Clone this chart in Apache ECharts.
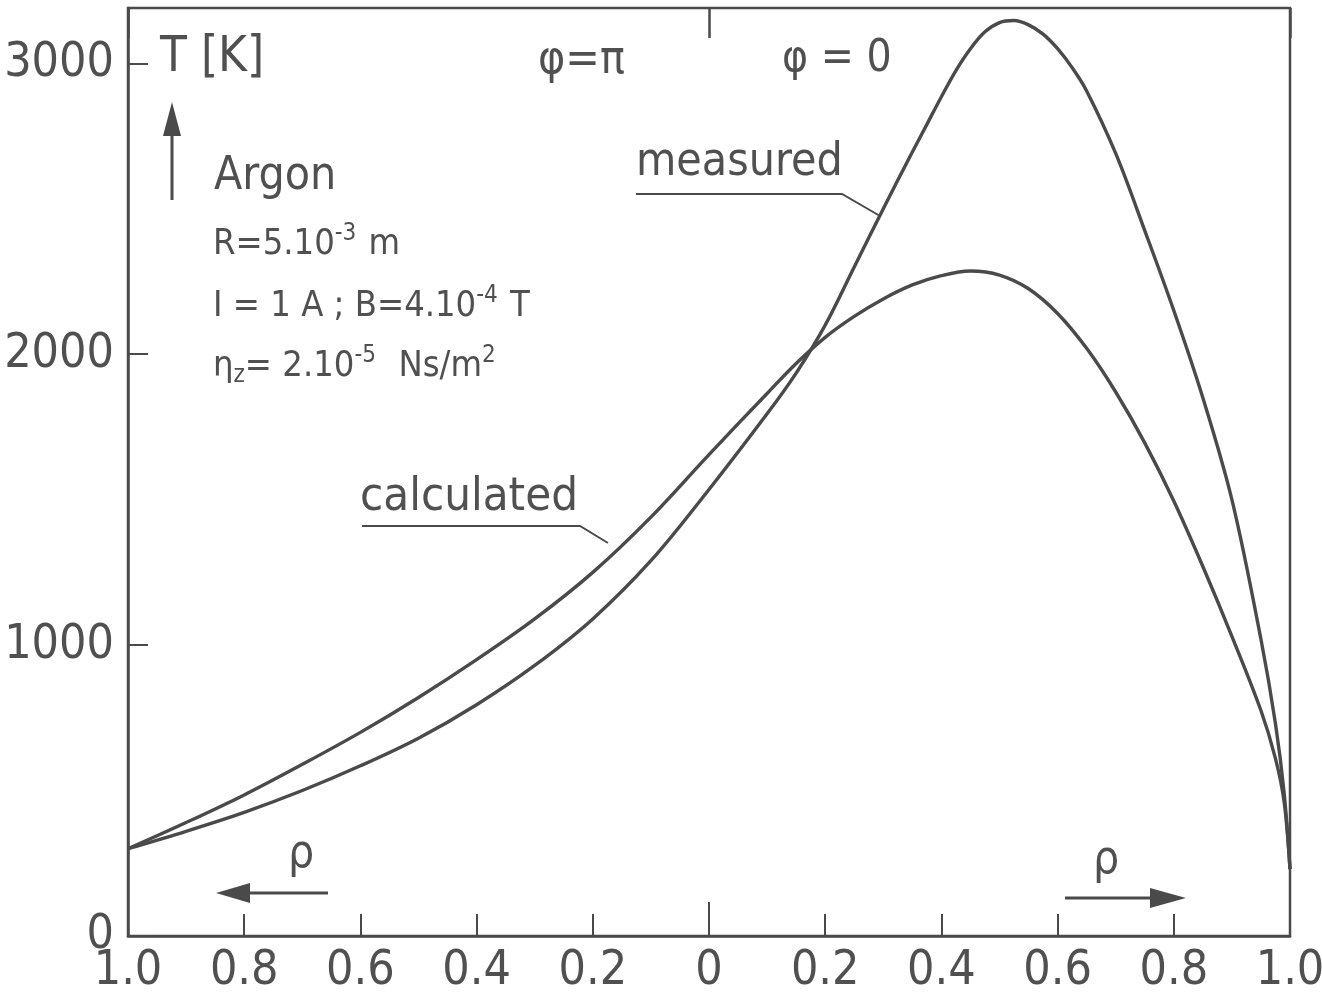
<!DOCTYPE html>
<html><head><meta charset="utf-8">
<script src="https://cdn.jsdelivr.net/npm/echarts@6/dist/echarts.min.js"></script>
<style>html,body{margin:0;padding:0;background:#fff}#c{width:1322px;height:1003px}</style>
</head><body><div id="c"></div>
<script>
// x positions (rho, negative = phi=pi side)
const xCalc = [-1.0,-0.9,-0.8,-0.7,-0.6,-0.5,-0.4,-0.3,-0.2,-0.1,0.0,0.1,0.15,0.2,0.25,0.3,0.35,0.4,0.45,0.5,0.55,0.6,0.65,0.7,0.75,0.8,0.85,0.9,0.95,0.975,0.99,1.0];
const calculated = [300,390,485,590,700,820,950,1090,1250,1440,1655,1865,1968,2058,2130,2190,2238,2270,2286,2272,2225,2140,2020,1870,1695,1495,1270,1030,775,610,460,230];
const xMeas = [-1.0,-0.9,-0.8,-0.7,-0.6,-0.5,-0.4,-0.3,-0.2,-0.1,0.0,0.1,0.15,0.2,0.25,0.3,0.35,0.375,0.4,0.425,0.45,0.475,0.5,0.525,0.55,0.575,0.6,0.625,0.65,0.7,0.75,0.8,0.85,0.9,0.95,0.975,0.99,1.0];
const measured = [300,360,425,500,585,680,795,930,1090,1290,1535,1795,1935,2100,2300,2500,2695,2790,2885,2975,3050,3108,3140,3147,3132,3100,3050,2985,2905,2690,2425,2150,1850,1500,1020,730,490,230];
const yTicks = [0,1000,2000,3000];
const yTickLabels = ['0','1000','2000','3000'];

const FONT = '"DejaVu Sans Condensed","DejaVu Sans",sans-serif';
const INK = '#4a4a4a';
const TXT = '#505050';

const chart = echarts.init(document.getElementById('c'), null, {renderer:'canvas'});
const pair = (xs, ys) => xs.map((x,i)=>[x, ys[i]]);

const option = {
  backgroundColor:'#fff',
  animation:false,
  grid:{left:128,right:32,top:8,bottom:67,show:true,borderColor:INK,borderWidth:2.5,backgroundColor:'transparent',
    containLabel:false,outerBoundsMode:'none'},
  xAxis:[{
    type:'value',min:-1,max:1,interval:0.2,position:'bottom',
    axisLine:{show:true,onZero:false,lineStyle:{color:INK,width:2.5}},
    axisTick:{show:true,inside:true,length:22,lineStyle:{color:INK,width:2}},
    splitLine:{show:false},
    axisLabel:{color:TXT,fontFamily:FONT,fontSize:48,margin:12,
      formatter:v=>{const a=Math.abs(v); if(a<1e-9) return '0'; return a.toFixed(1);}}
  },{
    type:'value',min:-1,max:1,interval:1,position:'bottom',
    axisLine:{show:false,onZero:false},
    axisTick:{show:true,inside:true,length:34,lineStyle:{color:INK,width:2}},
    splitLine:{show:false},axisLabel:{show:false}
  },{
    type:'value',min:-1,max:1,interval:1,position:'top',
    axisLine:{show:false,onZero:false},
    axisTick:{show:true,inside:true,length:30,lineStyle:{color:INK,width:2.5}},
    splitLine:{show:false},axisLabel:{show:false}
  }],
  yAxis:{
    type:'value',min:0,max:3190,interval:1000,position:'left',
    axisLine:{show:true,onZero:false,lineStyle:{color:INK,width:2.5}},
    axisTick:{show:true,inside:true,length:20,lineStyle:{color:INK,width:2},
      customValues: yTicks},
    splitLine:{show:false},
    axisLabel:{color:TXT,fontFamily:FONT,fontSize:48,margin:14,
      customValues: yTicks,
      formatter:v=>{const i=yTicks.indexOf(v); return i>=0?yTickLabels[i]:'';}}
  },
  series:[
    {name:'calculated',type:'line',xAxisIndex:0,data:pair(xCalc,calculated),smooth:0.35,showSymbol:false,
      lineStyle:{color:INK,width:3.4}},
    {name:'measured',type:'line',xAxisIndex:0,data:pair(xMeas,measured),smooth:0.35,showSymbol:false,
      lineStyle:{color:INK,width:3.4}}
  ],
  graphic:[
    {type:'text',left:160,top:34,style:{text:'T [K]',font:'49px '+FONT,fill:TXT}},
    {type:'text',left:538,top:38,style:{text:'φ=π',font:'46px '+FONT,fill:TXT}},
    {type:'text',left:782,top:38,style:{text:'φ = 0',font:'44px '+FONT,fill:TXT}},
    {type:'text',left:214,top:154,style:{text:'Argon',font:'46px '+FONT,fill:TXT}},
    {type:'text',left:213,top:222,style:{text:'R=5.10{s|-3} m',font:'36px '+FONT,fill:TXT,
      rich:{s:{fontSize:24,fontFamily:FONT,fill:TXT,padding:[0,2,22,0]}}}},
    {type:'text',left:213,top:284,style:{text:'I = 1 A ; B=4.10{s|-4} T',font:'36px '+FONT,fill:TXT,
      rich:{s:{fontSize:24,fontFamily:FONT,fill:TXT,padding:[0,2,22,0]}}}},
    {type:'text',left:213,top:344,style:{text:'η{b|z}= 2.10{s|-5}  Ns/m{s|2}',font:'36px '+FONT,fill:TXT,
      rich:{s:{fontSize:24,fontFamily:FONT,fill:TXT,padding:[0,2,22,0]},
            b:{fontSize:24,fontFamily:FONT,fill:TXT,padding:[18,0,0,0]}}}},
    {type:'text',left:636,top:140,style:{text:'measured',font:'46px '+FONT,fill:TXT}},
    {type:'polyline',shape:{points:[[636,194],[842,194],[880,216]]},style:{stroke:INK,lineWidth:2,fill:null}},
    {type:'text',left:360,top:474,style:{text:'calculated',font:'47px '+FONT,fill:TXT}},
    {type:'polyline',shape:{points:[[362,526],[580,526],[608,543]]},style:{stroke:INK,lineWidth:2,fill:null}},
    // vertical arrow
    {type:'line',shape:{x1:172,y1:200,x2:172,y2:125},style:{stroke:INK,lineWidth:3}},
    {type:'polygon',shape:{points:[[163,136],[181,136],[172,102]]},style:{fill:INK}},
    // left rho arrow
    {type:'text',left:288,top:832,style:{text:'ρ',font:'46px '+FONT,fill:TXT}},
    {type:'line',shape:{x1:245,y1:893,x2:328,y2:893},style:{stroke:INK,lineWidth:3}},
    {type:'polygon',shape:{points:[[250,883],[250,903],[216,893]]},style:{fill:INK}},
    // right rho arrow
    {type:'text',left:1093,top:838,style:{text:'ρ',font:'46px '+FONT,fill:TXT}},
    {type:'line',shape:{x1:1065,y1:898,x2:1155,y2:898},style:{stroke:INK,lineWidth:3}},
    {type:'polygon',shape:{points:[[1150,888],[1150,908],[1186,898]]},style:{fill:INK}}
  ]
};
chart.setOption(option);
</script></body></html>
